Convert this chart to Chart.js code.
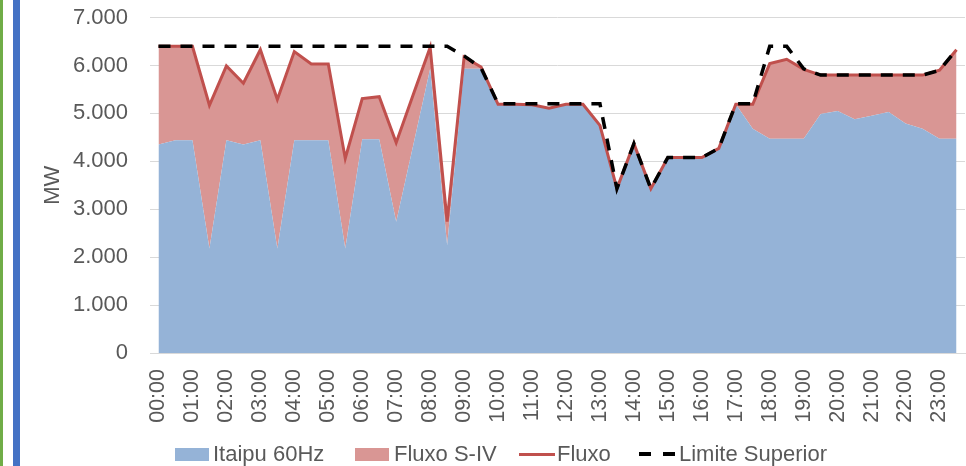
<!DOCTYPE html>
<html>
<head>
<meta charset="utf-8">
<title>Fluxo S-IV e Itaipu 60Hz</title>
<script src="https://cdn.jsdelivr.net/npm/chart.js@4/dist/chart.umd.min.js"></script>
<style>
  html, body { margin: 0; padding: 0; background: #fff; }
  #wrap { position: relative; width: 966px; height: 466px; overflow: hidden; background: #fff; }
  #grafico { position: absolute; left: 0; top: 0; }
  .faixa { position: absolute; top: 0; height: 466px; }
  .leg { position: absolute; top: 442px; height: 24px; display: flex; align-items: center;
         font-family: "Liberation Sans", Arial, sans-serif; font-size: 22px; color: #595959; white-space: nowrap; }
  .caixa { display: inline-block; width: 34px; height: 13px; }
  .traco { display: inline-block; width: 36px; height: 3px; background: #C0504D; }
  .tracejado { display: inline-block; width: 36px; height: 4px;
               background: linear-gradient(to right, #000 0 12px, transparent 12px 24px, #000 24px 36px); }
</style>
</head>
<body>
<div id="wrap">
  <canvas id="grafico" width="966" height="466"></canvas>
  <div class="faixa" style="left:0;width:3px;background:#70AD47;"></div>
  <div class="faixa" style="left:13px;width:7px;background:#4472C4;"></div>

  <div class="leg" style="left:175px;"><span class="caixa" style="background:#95B3D7;"></span><span style="margin-left:4px;">Itaipu 60Hz</span></div>
  <div class="leg" style="left:355px;"><span class="caixa" style="background:#D99694;"></span><span style="margin-left:5px;">Fluxo S-IV</span></div>
  <div class="leg" style="left:519px;"><span class="traco"></span><span style="margin-left:2px;">Fluxo</span></div>
  <div class="leg" style="left:639px;"><span class="tracejado"></span><span style="margin-left:4px;">Limite Superior</span></div>
</div>

<script>
// Half-hour categories of the day
const horas = [
  "00:00","00:30","01:00","01:30","02:00","02:30","03:00","03:30",
  "04:00","04:30","05:00","05:30","06:00","06:30","07:00","07:30",
  "08:00","08:30","09:00","09:30","10:00","10:30","11:00","11:30",
  "12:00","12:30","13:00","13:30","14:00","14:30","15:00","15:30",
  "16:00","16:30","17:00","17:30","18:00","18:30","19:00","19:30",
  "20:00","20:30","21:00","21:30","22:00","22:30","23:00","23:30"
];

// Itaipu 60Hz generation (MW)
const itaipu = [
  4350, 4440, 4440, 2180, 4440, 4350, 4440, 2180,
  4440, 4440, 4440, 2180, 4460, 4460, 2740, 4330,
  5930, 2250, 5930, 5930, 5190, 5190, 5180, 5110,
  5190, 5190, 4750, 3430, 4370, 3430, 4080, 4080,
  4080, 4270, 5190, 4680, 4470, 4470, 4470, 4990,
  5050, 4880, 4950, 5030, 4790, 4680, 4470, 4470
];

// Fluxo S-IV portion, stacked above Itaipu (MW)
const fluxoSIV = [
  2050, 1960, 1960, 2990, 1550, 1280, 1890, 3110,
  1850, 1590, 1590, 1880,  850,  890, 1650, 1060,
   450,  490,  250,   40,    0,    0,    0,    0,
     0,    0,    0,    0,    0,    0,    0,    0,
     0,    0,    0,  510, 1570, 1660, 1450,  810,
   750,  920,  850,  770, 1010, 1120, 1430, 1860
];

// Total flow (MW)
const fluxo = [
  6400, 6400, 6400, 5170, 5990, 5630, 6330, 5290,
  6290, 6030, 6030, 4060, 5310, 5350, 4390, 5390,
  6380, 2740, 6180, 5970, 5190, 5190, 5180, 5110,
  5190, 5190, 4750, 3430, 4370, 3430, 4080, 4080,
  4080, 4270, 5190, 5190, 6040, 6130, 5920, 5800,
  5800, 5800, 5800, 5800, 5800, 5800, 5900, 6330
];

// Upper limit (MW)
const limite = [
  6400, 6400, 6400, 6400, 6400, 6400, 6400, 6400,
  6400, 6400, 6400, 6400, 6400, 6400, 6400, 6400,
  6400, 6400, 6200, 5950, 5200, 5200, 5200, 5200,
  5200, 5200, 5200, 3430, 4370, 3430, 4080, 4080,
  4080, 4270, 5200, 5200, 6400, 6400, 5930, 5800,
  5800, 5800, 5800, 5800, 5800, 5800, 5900, 6330
];

// Value axis ticks
const yMin = 0, yMax = 7000, yPasso = 1000;

const FONTE = "'Liberation Sans', Arial, sans-serif";
const CINZA = '#595959';
const GRADE = '#D9D9D9';

function milhar(v) {
  return String(Math.round(v)).replace(/\B(?=(\d{3})+(?!\d))/g, '.');
}

const ctx = document.getElementById('grafico').getContext('2d');
new Chart(ctx, {
  type: 'line',
  data: {
    labels: horas,
    datasets: [
      {
        label: 'Limite Superior', data: limite, stack: 'lim',
        borderColor: '#000000', borderWidth: 3.5, borderDash: [12, 10],
        fill: false, pointRadius: 0, tension: 0
      },
      {
        label: 'Fluxo', data: fluxo, stack: 'flx',
        borderColor: '#C0504D', borderWidth: 3,
        fill: false, pointRadius: 0, tension: 0
      },
      {
        label: 'Itaipu 60Hz', data: itaipu, stack: 'area',
        borderColor: 'rgba(0,0,0,0)', borderWidth: 0, backgroundColor: '#95B3D7',
        fill: 'origin', pointRadius: 0, tension: 0
      },
      {
        label: 'Fluxo S-IV', data: fluxoSIV, stack: 'area',
        borderColor: 'rgba(0,0,0,0)', borderWidth: 0, backgroundColor: '#D99694',
        fill: '-1', pointRadius: 0, tension: 0
      }
    ]
  },
  options: {
    responsive: false,
    animation: false,
    devicePixelRatio: 1,
    layout: { padding: { left: 36, top: 17.6, right: 1, bottom: 0 } },
    plugins: { legend: { display: false }, tooltip: { enabled: false } },
    scales: {
      x: {
        offset: true,
        grid: { display: false, drawTicks: false },
        border: { display: true, color: GRADE, width: 1 },
        ticks: {
          autoSkip: false, minRotation: 90, maxRotation: 90, padding: 16,
          color: CINZA, font: { family: FONTE, size: 21.5 },
          callback: function (v, i) { const t = horas[i]; return t.endsWith(':00') ? t : ''; }
        },
        afterFit: function (s) {
          s.height = 113;
          s.paddingLeft = 0; s.paddingRight = 0;
        }
      },
      y: {
        stacked: true,
        min: yMin, max: yMax,
        grid: { color: GRADE, lineWidth: 1, drawTicks: false },
        border: { display: false },
        ticks: {
          stepSize: yPasso, padding: 22,
          color: CINZA, font: { family: FONTE, size: 22 },
          callback: function (v) { return milhar(v); }
        },
        title: { display: true, text: 'MW', color: CINZA, font: { family: FONTE, size: 22 }, padding: { top: 4, bottom: 4 } },
        afterFit: function (s) {
          s.width = 114;
          s.paddingTop = 0; s.paddingBottom = 0;
        }
      }
    }
  }
});
</script>
</body>
</html>
